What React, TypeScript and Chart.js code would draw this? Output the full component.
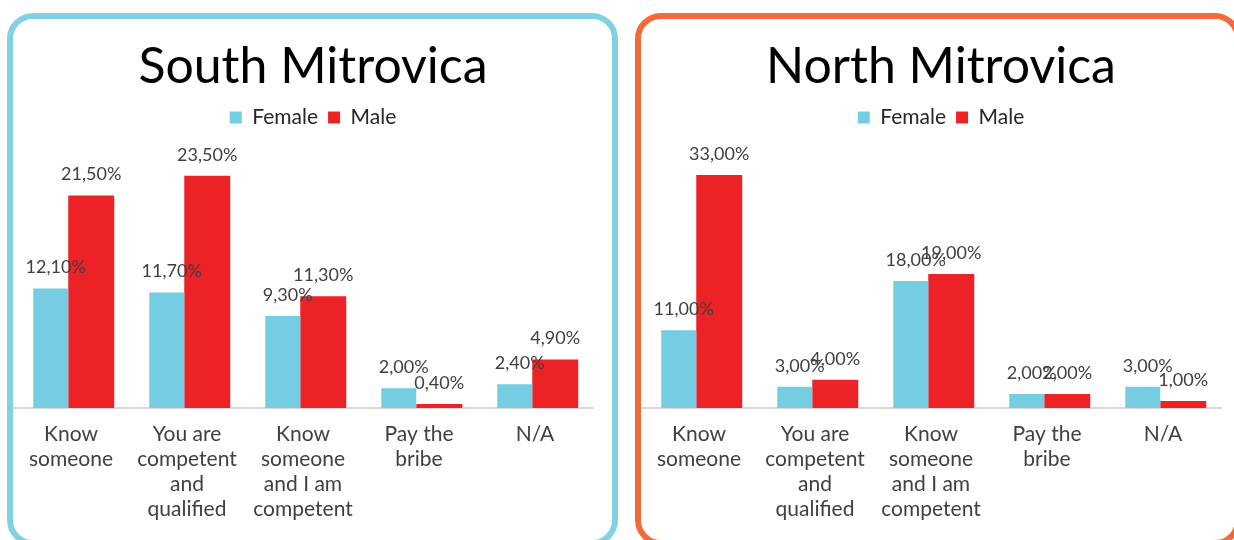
import React, { useEffect, useRef } from 'react';
import { Chart, registerables } from 'chart.js';

Chart.register(...registerables);

const categories: string[][] = [
  ['Know', 'someone'],
  ['You are', 'competent', 'and', 'qualified'],
  ['Know', 'someone', 'and I am', 'competent'],
  ['Pay the', 'bribe'],
  ['N/A'],
];
const seriesNames = ['Female', 'Male'];
const southTitle = 'South Mitrovica';
const northTitle = 'North Mitrovica';
const southFemale = [12.1, 11.7, 9.3, 2.0, 2.4];
const southMale = [21.5, 23.5, 11.3, 0.4, 4.9];
const northFemale = [11, 3, 18, 2, 3];
const northMale = [33, 4, 19, 2, 1];
const southMax = 25;
const northMax = 35;

const FONT = 'Lato';
const FEMALE = '#74CDE0';
const MALE = '#EC2227';
const TEXT = '#404040';

const fmt = (v: number) => v.toFixed(2).replace('.', ',') + '%';

const valueLabels = {
  id: 'valueLabels',
  afterDatasetsDraw(chart: any) {
    const ctx = chart.ctx;
    ctx.save();
    ctx.font = `400 18px ${FONT}`;
    ctx.fillStyle = TEXT;
    ctx.textAlign = 'center';
    ctx.textBaseline = 'middle';
    chart.data.datasets.forEach((ds: any, di: number) => {
      const meta = chart.getDatasetMeta(di);
      meta.data.forEach((el: any, i: number) => {
        const dx = di === 0 ? 5 : 0;
        ctx.fillText(fmt(ds.data[i]), el.x + dx, el.y - 21);
      });
    });
    ctx.restore();
  },
};

function makeConfig(title: string, female: number[], male: number[], max: number): any {
  return {
    type: 'bar',
    data: {
      labels: categories,
      datasets: [
        {
          label: seriesNames[0],
          data: female,
          backgroundColor: FEMALE,
          borderWidth: 0,
          barPercentage: 0.864,
          categoryPercentage: 0.698,
        },
        {
          label: seriesNames[1],
          data: male,
          backgroundColor: MALE,
          borderWidth: 0,
          barPercentage: 1.136,
          categoryPercentage: 0.698,
        },
      ],
    },
    options: {
      responsive: false,
      animation: false,
      devicePixelRatio: 1,
      layout: { padding: { left: 0, right: 0, top: 0, bottom: 4 } },
      plugins: {
        title: {
          display: true,
          text: title,
          color: '#000',
          font: { family: FONT, size: 50, weight: 'normal', lineHeight: 1.2 },
          padding: { top: 18, bottom: 0 },
        },
        subtitle: {
          display: true,
          text: '',
          weight: 500,
          font: { size: 1, lineHeight: 1 },
          padding: { top: 22, bottom: 0 },
        },
        legend: {
          display: true,
          position: 'top',
          labels: {
            boxWidth: 12,
            boxHeight: 12,
            padding: 10,
            color: '#262626',
            font: { family: FONT, size: 21 },
          },
        },
        tooltip: { enabled: false },
      },
      scales: {
        x: {
          grid: { display: false, drawTicks: false },
          border: { display: true, color: '#D9D9D9', width: 2 },
          ticks: {
            padding: 14,
            color: TEXT,
            autoSkip: false,
            maxRotation: 0,
            font: { family: FONT, size: 21, lineHeight: 25 / 21 },
          },
        },
        y: {
          display: true,
          position: 'right',
          min: 0,
          max,
          grid: { display: false, drawTicks: false },
          border: { display: false },
          ticks: { display: false },
          afterFit: (s: any) => {
            s.width = 20;
          },
        },
      },
    },
    plugins: [valueLabels],
  };
}

function BarPanel(props: { title: string; female: number[]; male: number[]; max: number; left: number }) {
  const ref = useRef<HTMLCanvasElement | null>(null);
  useEffect(() => {
    if (!ref.current) return;
    const chart = new Chart(ref.current, makeConfig(props.title, props.female, props.male, props.max));
    return () => chart.destroy();
  }, []);
  return (
    <canvas
      ref={ref}
      width={600}
      height={521}
      style={{ position: 'absolute', left: props.left, top: 19, width: 600, height: 521, display: 'block' }}
    />
  );
}

export default function App() {
  return (
    <div
      style={{
        position: 'fixed',
        left: 0,
        top: 0,
        width: 1234,
        height: 540,
        overflow: 'hidden',
        background: '#fff',
      }}
    >
      <div
        style={{
          position: 'absolute',
          left: 7,
          top: 13,
          width: 611,
          height: 533,
          border: '6px solid #80D2E3',
          borderRadius: 26,
          boxSizing: 'border-box',
        }}
      />
      <div
        style={{
          position: 'absolute',
          left: 635,
          top: 13,
          width: 606,
          height: 533,
          border: '6px solid #F46A3B',
          borderRadius: 26,
          boxSizing: 'border-box',
        }}
      />
      <BarPanel title={southTitle} female={southFemale} male={southMale} max={southMax} left={13} />
      <BarPanel title={northTitle} female={northFemale} male={northMale} max={northMax} left={641} />
    </div>
  );
}
